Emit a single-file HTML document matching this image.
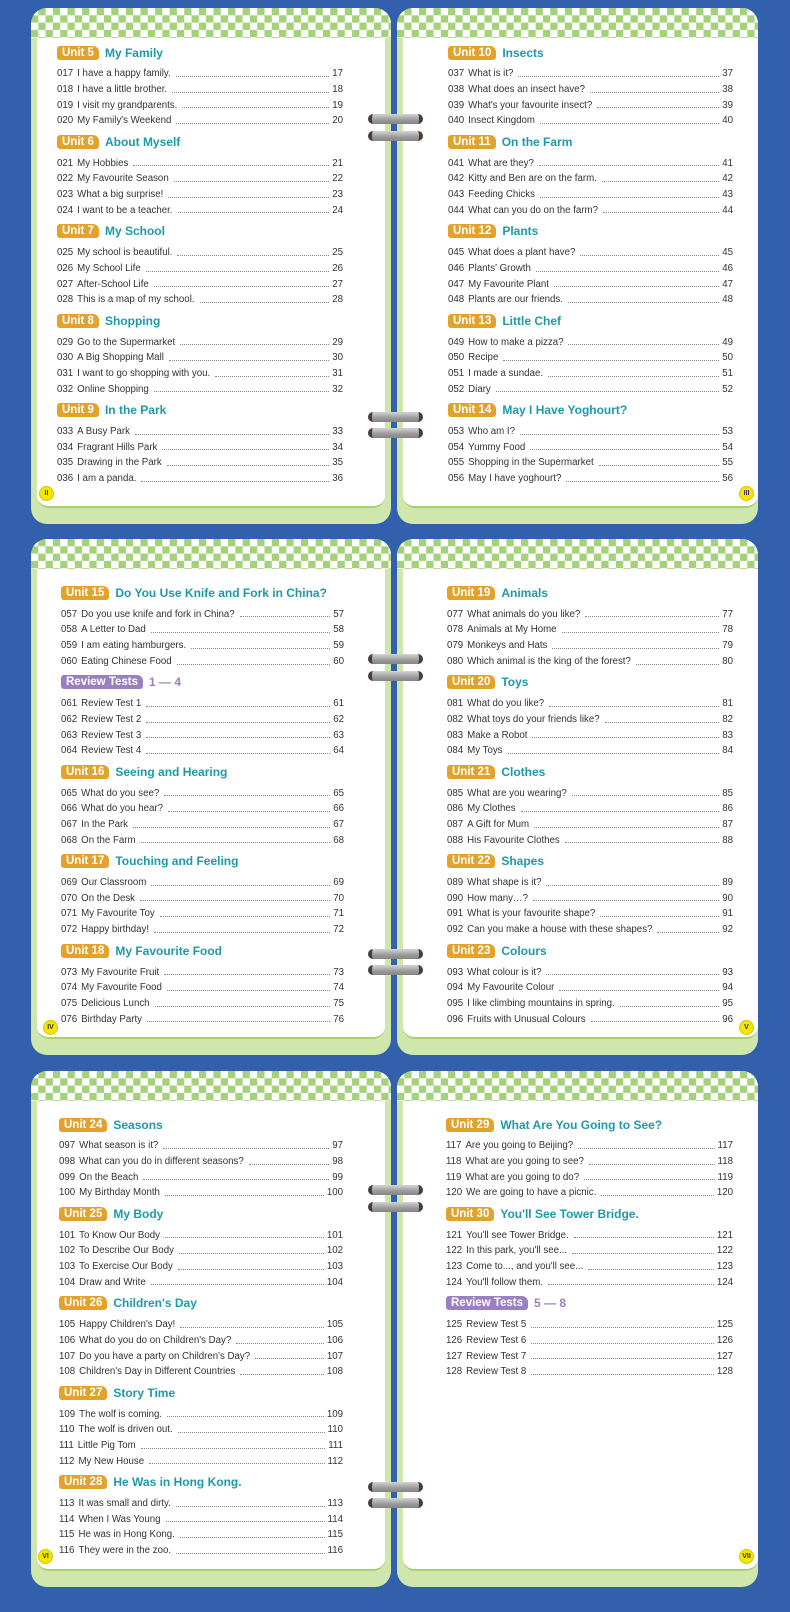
<!DOCTYPE html>
<html><head><meta charset="utf-8">
<style>
*{margin:0;padding:0;box-sizing:border-box}
body{width:790px;height:1612px;background:#3260ac;position:relative;overflow:hidden;font-family:"Liberation Sans",sans-serif}
.pg{position:absolute;height:516px;background:#cfe6ad;border-radius:16px;overflow:hidden}
.pg .w{position:absolute;top:0;bottom:16px;background:#fff;border-radius:14px 14px 12px 12px;border-bottom:2px solid #a9cf70}
.pg.l .w{left:6px;right:6px}
.pg.r .w{left:6px;right:0}
.pg .ck{position:absolute;left:0;right:0;top:0;height:30px;border-radius:14px 14px 0 0;
background-color:#fff;background-image:conic-gradient(#a4d27a 25%,#fff 0 50%,#a4d27a 0 75%,#fff 0);background-size:14.6px 14.6px}
.c{position:absolute}
.u{height:16px;display:flex;align-items:center;margin-bottom:5.75px}
.b{background:#e2a22c;color:#fff;font-weight:bold;font-size:11.5px;line-height:14px;height:14px;padding:0 5px;border-radius:3px 6px 3px 3px;margin-right:6px}
.b.p{background:#9c7fc0}
.t{color:#1e9aa6;font-weight:bold;font-size:12px}
.t.p{color:#9c7fc0}
.i{height:15.7px;line-height:15.7px;font-size:9.7px;color:#333;display:flex;white-space:nowrap}
.i .n{margin-right:4px}
.i .d{flex:1;border-bottom:1px dotted #888;margin:0 3px 5px 5px}
.blk{margin-bottom:4.95px}
.pn{position:absolute;width:15px;height:15px;border-radius:50%;background:#f3e600;border:1px solid #d9c400;font-size:7px;line-height:13px;text-align:center;color:#333;font-weight:bold}
.ring{position:absolute;left:368px;width:55px;height:10px;border-radius:5px;background:linear-gradient(#d4d4d4,#9a9a9a 60%,#858585);border-left:4px solid #4a3c36;border-right:4px solid #4a3c36}
</style></head><body>

<!-- ROW 1 -->
<div class="pg l" style="left:31px;top:8px;width:360px"><div class="w"></div><div class="ck"></div>
<div class="c" style="left:26px;top:36.5px;width:286px">
<div class="blk"><div class="u"><span class="b">Unit 5</span><span class="t">My Family</span></div>
<div class="i"><span class="n">017</span>I have a happy family.<span class="d"></span>17</div>
<div class="i"><span class="n">018</span>I have a little brother.<span class="d"></span>18</div>
<div class="i"><span class="n">019</span>I visit my grandparents.<span class="d"></span>19</div>
<div class="i"><span class="n">020</span>My Family's Weekend<span class="d"></span>20</div></div>
<div class="blk"><div class="u"><span class="b">Unit 6</span><span class="t">About Myself</span></div>
<div class="i"><span class="n">021</span>My Hobbies<span class="d"></span>21</div>
<div class="i"><span class="n">022</span>My Favourite Season<span class="d"></span>22</div>
<div class="i"><span class="n">023</span>What a big surprise!<span class="d"></span>23</div>
<div class="i"><span class="n">024</span>I want to be a teacher.<span class="d"></span>24</div></div>
<div class="blk"><div class="u"><span class="b">Unit 7</span><span class="t">My School</span></div>
<div class="i"><span class="n">025</span>My school is beautiful.<span class="d"></span>25</div>
<div class="i"><span class="n">026</span>My School Life<span class="d"></span>26</div>
<div class="i"><span class="n">027</span>After-School Life<span class="d"></span>27</div>
<div class="i"><span class="n">028</span>This is a map of my school.<span class="d"></span>28</div></div>
<div class="blk"><div class="u"><span class="b">Unit 8</span><span class="t">Shopping</span></div>
<div class="i"><span class="n">029</span>Go to the Supermarket<span class="d"></span>29</div>
<div class="i"><span class="n">030</span>A Big Shopping Mall<span class="d"></span>30</div>
<div class="i"><span class="n">031</span>I want to go shopping with you.<span class="d"></span>31</div>
<div class="i"><span class="n">032</span>Online Shopping<span class="d"></span>32</div></div>
<div class="blk"><div class="u"><span class="b">Unit 9</span><span class="t">In the Park</span></div>
<div class="i"><span class="n">033</span>A Busy Park<span class="d"></span>33</div>
<div class="i"><span class="n">034</span>Fragrant Hills Park<span class="d"></span>34</div>
<div class="i"><span class="n">035</span>Drawing in the Park<span class="d"></span>35</div>
<div class="i"><span class="n">036</span>I am a panda.<span class="d"></span>36</div></div>
</div>
<div class="pn" style="left:8px;top:478px">II</div>
</div>

<div class="pg r" style="left:397px;top:8px;width:361px"><div class="w"></div><div class="ck"></div>
<div class="c" style="left:51px;top:36.5px;width:285px">
<div class="blk"><div class="u"><span class="b">Unit 10</span><span class="t">Insects</span></div>
<div class="i"><span class="n">037</span>What is it?<span class="d"></span>37</div>
<div class="i"><span class="n">038</span>What does an insect have?<span class="d"></span>38</div>
<div class="i"><span class="n">039</span>What's your favourite insect?<span class="d"></span>39</div>
<div class="i"><span class="n">040</span>Insect Kingdom<span class="d"></span>40</div></div>
<div class="blk"><div class="u"><span class="b">Unit 11</span><span class="t">On the Farm</span></div>
<div class="i"><span class="n">041</span>What are they?<span class="d"></span>41</div>
<div class="i"><span class="n">042</span>Kitty and Ben are on the farm.<span class="d"></span>42</div>
<div class="i"><span class="n">043</span>Feeding Chicks<span class="d"></span>43</div>
<div class="i"><span class="n">044</span>What can you do on the farm?<span class="d"></span>44</div></div>
<div class="blk"><div class="u"><span class="b">Unit 12</span><span class="t">Plants</span></div>
<div class="i"><span class="n">045</span>What does a plant have?<span class="d"></span>45</div>
<div class="i"><span class="n">046</span>Plants' Growth<span class="d"></span>46</div>
<div class="i"><span class="n">047</span>My Favourite Plant<span class="d"></span>47</div>
<div class="i"><span class="n">048</span>Plants are our friends.<span class="d"></span>48</div></div>
<div class="blk"><div class="u"><span class="b">Unit 13</span><span class="t">Little Chef</span></div>
<div class="i"><span class="n">049</span>How to make a pizza?<span class="d"></span>49</div>
<div class="i"><span class="n">050</span>Recipe<span class="d"></span>50</div>
<div class="i"><span class="n">051</span>I made a sundae.<span class="d"></span>51</div>
<div class="i"><span class="n">052</span>Diary<span class="d"></span>52</div></div>
<div class="blk"><div class="u"><span class="b">Unit 14</span><span class="t">May I Have Yoghourt?</span></div>
<div class="i"><span class="n">053</span>Who am I?<span class="d"></span>53</div>
<div class="i"><span class="n">054</span>Yummy Food<span class="d"></span>54</div>
<div class="i"><span class="n">055</span>Shopping in the Supermarket<span class="d"></span>55</div>
<div class="i"><span class="n">056</span>May I have yoghourt?<span class="d"></span>56</div></div>
</div>
<div class="pn" style="left:342px;top:478px">III</div>
</div>

<!-- ROW 2 -->
<div class="pg l" style="left:31px;top:539px;width:360px"><div class="w"></div><div class="ck"></div>
<div class="c" style="left:30px;top:46px;width:283px">
<div class="blk"><div class="u"><span class="b">Unit 15</span><span class="t">Do You Use Knife and Fork in China?</span></div>
<div class="i"><span class="n">057</span>Do you use knife and fork in China?<span class="d"></span>57</div>
<div class="i"><span class="n">058</span>A Letter to Dad<span class="d"></span>58</div>
<div class="i"><span class="n">059</span>I am eating hamburgers.<span class="d"></span>59</div>
<div class="i"><span class="n">060</span>Eating Chinese Food<span class="d"></span>60</div></div>
<div class="blk"><div class="u"><span class="b p">Review Tests</span><span class="t p">1 — 4</span></div>
<div class="i"><span class="n">061</span>Review Test 1<span class="d"></span>61</div>
<div class="i"><span class="n">062</span>Review Test 2<span class="d"></span>62</div>
<div class="i"><span class="n">063</span>Review Test 3<span class="d"></span>63</div>
<div class="i"><span class="n">064</span>Review Test 4<span class="d"></span>64</div></div>
<div class="blk"><div class="u"><span class="b">Unit 16</span><span class="t">Seeing and Hearing</span></div>
<div class="i"><span class="n">065</span>What do you see?<span class="d"></span>65</div>
<div class="i"><span class="n">066</span>What do you hear?<span class="d"></span>66</div>
<div class="i"><span class="n">067</span>In the Park<span class="d"></span>67</div>
<div class="i"><span class="n">068</span>On the Farm<span class="d"></span>68</div></div>
<div class="blk"><div class="u"><span class="b">Unit 17</span><span class="t">Touching and Feeling</span></div>
<div class="i"><span class="n">069</span>Our Classroom<span class="d"></span>69</div>
<div class="i"><span class="n">070</span>On the Desk<span class="d"></span>70</div>
<div class="i"><span class="n">071</span>My Favourite Toy<span class="d"></span>71</div>
<div class="i"><span class="n">072</span>Happy birthday!<span class="d"></span>72</div></div>
<div class="blk"><div class="u"><span class="b">Unit 18</span><span class="t">My Favourite Food</span></div>
<div class="i"><span class="n">073</span>My Favourite Fruit<span class="d"></span>73</div>
<div class="i"><span class="n">074</span>My Favourite Food<span class="d"></span>74</div>
<div class="i"><span class="n">075</span>Delicious Lunch<span class="d"></span>75</div>
<div class="i"><span class="n">076</span>Birthday Party<span class="d"></span>76</div></div>
</div>
<div class="pn" style="left:12px;top:481px">IV</div>
</div>

<div class="pg r" style="left:397px;top:539px;width:361px"><div class="w"></div><div class="ck"></div>
<div class="c" style="left:50px;top:46px;width:286px">
<div class="blk"><div class="u"><span class="b">Unit 19</span><span class="t">Animals</span></div>
<div class="i"><span class="n">077</span>What animals do you like?<span class="d"></span>77</div>
<div class="i"><span class="n">078</span>Animals at My Home<span class="d"></span>78</div>
<div class="i"><span class="n">079</span>Monkeys and Hats<span class="d"></span>79</div>
<div class="i"><span class="n">080</span>Which animal is the king of the forest?<span class="d"></span>80</div></div>
<div class="blk"><div class="u"><span class="b">Unit 20</span><span class="t">Toys</span></div>
<div class="i"><span class="n">081</span>What do you like?<span class="d"></span>81</div>
<div class="i"><span class="n">082</span>What toys do your friends like?<span class="d"></span>82</div>
<div class="i"><span class="n">083</span>Make a Robot<span class="d"></span>83</div>
<div class="i"><span class="n">084</span>My Toys<span class="d"></span>84</div></div>
<div class="blk"><div class="u"><span class="b">Unit 21</span><span class="t">Clothes</span></div>
<div class="i"><span class="n">085</span>What are you wearing?<span class="d"></span>85</div>
<div class="i"><span class="n">086</span>My Clothes<span class="d"></span>86</div>
<div class="i"><span class="n">087</span>A Gift for Mum<span class="d"></span>87</div>
<div class="i"><span class="n">088</span>His Favourite Clothes<span class="d"></span>88</div></div>
<div class="blk"><div class="u"><span class="b">Unit 22</span><span class="t">Shapes</span></div>
<div class="i"><span class="n">089</span>What shape is it?<span class="d"></span>89</div>
<div class="i"><span class="n">090</span>How many…?<span class="d"></span>90</div>
<div class="i"><span class="n">091</span>What is your favourite shape?<span class="d"></span>91</div>
<div class="i"><span class="n">092</span>Can you make a house with these shapes?<span class="d"></span>92</div></div>
<div class="blk"><div class="u"><span class="b">Unit 23</span><span class="t">Colours</span></div>
<div class="i"><span class="n">093</span>What colour is it?<span class="d"></span>93</div>
<div class="i"><span class="n">094</span>My Favourite Colour<span class="d"></span>94</div>
<div class="i"><span class="n">095</span>I like climbing mountains in spring.<span class="d"></span>95</div>
<div class="i"><span class="n">096</span>Fruits with Unusual Colours<span class="d"></span>96</div></div>
</div>
<div class="pn" style="left:342px;top:481px">V</div>
</div>

<!-- ROW 3 -->
<div class="pg l" style="left:31px;top:1071px;width:360px"><div class="w"></div><div class="ck"></div>
<div class="c" style="left:28px;top:45.5px;width:284px">
<div class="blk"><div class="u"><span class="b">Unit 24</span><span class="t">Seasons</span></div>
<div class="i"><span class="n">097</span>What season is it?<span class="d"></span>97</div>
<div class="i"><span class="n">098</span>What can you do in different seasons?<span class="d"></span>98</div>
<div class="i"><span class="n">099</span>On the Beach<span class="d"></span>99</div>
<div class="i"><span class="n">100</span>My Birthday Month<span class="d"></span>100</div></div>
<div class="blk"><div class="u"><span class="b">Unit 25</span><span class="t">My Body</span></div>
<div class="i"><span class="n">101</span>To Know Our Body<span class="d"></span>101</div>
<div class="i"><span class="n">102</span>To Describe Our Body<span class="d"></span>102</div>
<div class="i"><span class="n">103</span>To Exercise Our Body<span class="d"></span>103</div>
<div class="i"><span class="n">104</span>Draw and Write<span class="d"></span>104</div></div>
<div class="blk"><div class="u"><span class="b">Unit 26</span><span class="t">Children's Day</span></div>
<div class="i"><span class="n">105</span>Happy Children's Day!<span class="d"></span>105</div>
<div class="i"><span class="n">106</span>What do you do on Children's Day?<span class="d"></span>106</div>
<div class="i"><span class="n">107</span>Do you have a party on Children's Day?<span class="d"></span>107</div>
<div class="i"><span class="n">108</span>Children's Day in Different Countries<span class="d"></span>108</div></div>
<div class="blk"><div class="u"><span class="b">Unit 27</span><span class="t">Story Time</span></div>
<div class="i"><span class="n">109</span>The wolf is coming.<span class="d"></span>109</div>
<div class="i"><span class="n">110</span>The wolf is driven out.<span class="d"></span>110</div>
<div class="i"><span class="n">111</span>Little Pig Tom<span class="d"></span>111</div>
<div class="i"><span class="n">112</span>My New House<span class="d"></span>112</div></div>
<div class="blk"><div class="u"><span class="b">Unit 28</span><span class="t">He Was in Hong Kong.</span></div>
<div class="i"><span class="n">113</span>It was small and dirty.<span class="d"></span>113</div>
<div class="i"><span class="n">114</span>When I Was Young<span class="d"></span>114</div>
<div class="i"><span class="n">115</span>He was in Hong Kong.<span class="d"></span>115</div>
<div class="i"><span class="n">116</span>They were in the zoo.<span class="d"></span>116</div></div>
</div>
<div class="pn" style="left:7px;top:478px">VI</div>
</div>

<div class="pg r" style="left:397px;top:1071px;width:361px"><div class="w"></div><div class="ck"></div>
<div class="c" style="left:49px;top:45.5px;width:287px">
<div class="blk"><div class="u"><span class="b">Unit 29</span><span class="t">What Are You Going to See?</span></div>
<div class="i"><span class="n">117</span>Are you going to Beijing?<span class="d"></span>117</div>
<div class="i"><span class="n">118</span>What are you going to see?<span class="d"></span>118</div>
<div class="i"><span class="n">119</span>What are you going to do?<span class="d"></span>119</div>
<div class="i"><span class="n">120</span>We are going to have a picnic.<span class="d"></span>120</div></div>
<div class="blk"><div class="u"><span class="b">Unit 30</span><span class="t">You'll See Tower Bridge.</span></div>
<div class="i"><span class="n">121</span>You'll see Tower Bridge.<span class="d"></span>121</div>
<div class="i"><span class="n">122</span>In this park, you'll see...<span class="d"></span>122</div>
<div class="i"><span class="n">123</span>Come to..., and you'll see...<span class="d"></span>123</div>
<div class="i"><span class="n">124</span>You'll follow them.<span class="d"></span>124</div></div>
<div class="blk"><div class="u"><span class="b p">Review Tests</span><span class="t p">5 — 8</span></div>
<div class="i"><span class="n">125</span>Review Test 5<span class="d"></span>125</div>
<div class="i"><span class="n">126</span>Review Test 6<span class="d"></span>126</div>
<div class="i"><span class="n">127</span>Review Test 7<span class="d"></span>127</div>
<div class="i"><span class="n">128</span>Review Test 8<span class="d"></span>128</div></div>
</div>
<div class="pn" style="left:342px;top:478px">VII</div>
</div>

<div class="ring" style="top:114px"></div>
<div class="ring" style="top:131px"></div>
<div class="ring" style="top:412px"></div>
<div class="ring" style="top:428px"></div>
<div class="ring" style="top:654px"></div>
<div class="ring" style="top:671px"></div>
<div class="ring" style="top:949px"></div>
<div class="ring" style="top:965px"></div>
<div class="ring" style="top:1185px"></div>
<div class="ring" style="top:1202px"></div>
<div class="ring" style="top:1482px"></div>
<div class="ring" style="top:1498px"></div>
</body></html>
